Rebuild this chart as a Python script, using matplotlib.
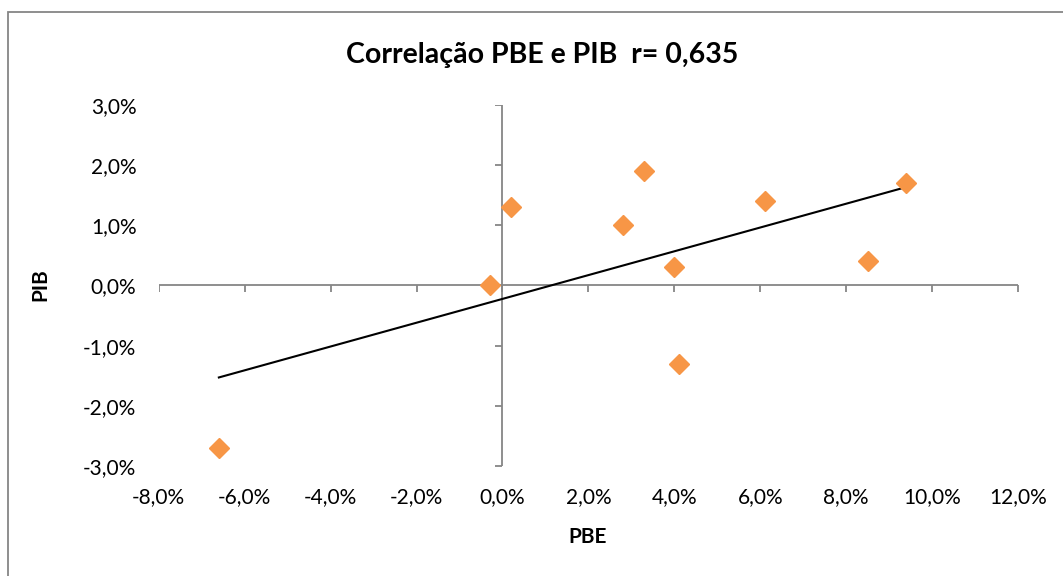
import numpy as np
import matplotlib.pyplot as plt
from matplotlib.patches import Rectangle

# valores em %
pbe = [-6.6, -0.3, 0.2, 2.8, 3.3, 4.0, 4.1, 6.1, 8.5, 9.4]
pib = [-2.7, 0.0, 1.3, 1.0, 1.9, 0.3, -1.3, 1.4, 0.4, 1.7]
xticks = [-8, -6, -4, -2, 0, 2, 4, 6, 8, 10, 12]
yticks = [-3, -2, -1, 0, 1, 2, 3]

plt.rcParams['font.family'] = ['Lato', 'DejaVu Sans']
grey = '#868686'

def pct(v):
    return ('%.1f%%' % v).replace('.', ',')

fig = plt.figure(figsize=(10.63, 5.76), dpi=100)
ax = fig.add_axes([0.1493, 0.1910, 0.8084, 0.6267])
ax.set_xlim(-8, 12)
ax.set_ylim(-3, 3)
for s in ax.spines.values():
    s.set_visible(False)
ax.set_xticks(xticks)
ax.set_yticks(yticks)
ax.set_xticklabels([pct(v) for v in xticks])
ax.set_yticklabels([pct(v) for v in yticks])
ax.tick_params(length=0, labelsize=15)
ax.tick_params(axis='y', pad=16)
ax.tick_params(axis='x', pad=15)

# eixos cruzando no zero
ax.axhline(0, color=grey, lw=1.3, zorder=1)
ax.axvline(0, color=grey, lw=1.3, zorder=1)
ax.plot(xticks, np.zeros(len(xticks)), ls='none', marker=3, ms=5, mew=1.3, color=grey, zorder=1)
ax.plot(np.zeros(len(yticks)), yticks, ls='none', marker=0, ms=5, mew=1.3, color=grey, zorder=1)

# linha de tendência
a, b = np.polyfit(pbe, pib, 1)
xs = np.array([min(pbe), max(pbe)])
ax.plot(xs, a * xs + b, color='black', lw=1.5, zorder=2)

ax.plot(pbe, pib, ls='none', marker='D', ms=10.5, color='#F79646', mec='#F79646', zorder=3)

fig.text(0.51, 0.905, 'Correlação PBE e PIB  r= 0,635', ha='center', va='center',
         fontsize=20.5, fontweight='bold')
fig.text(0.553, 0.068, 'PBE', ha='center', va='center', fontsize=15, fontweight='bold')
fig.text(0.0376, 0.505, 'PIB', ha='center', va='center', fontsize=15, fontweight='bold', rotation=90)

fig.add_artist(Rectangle((8 / 1063, -0.5), 2, 1 - 12 / 576 + 0.5, transform=fig.transFigure,
                         fill=False, edgecolor=grey, lw=1.3))

fig.savefig('out.png', dpi=100)
